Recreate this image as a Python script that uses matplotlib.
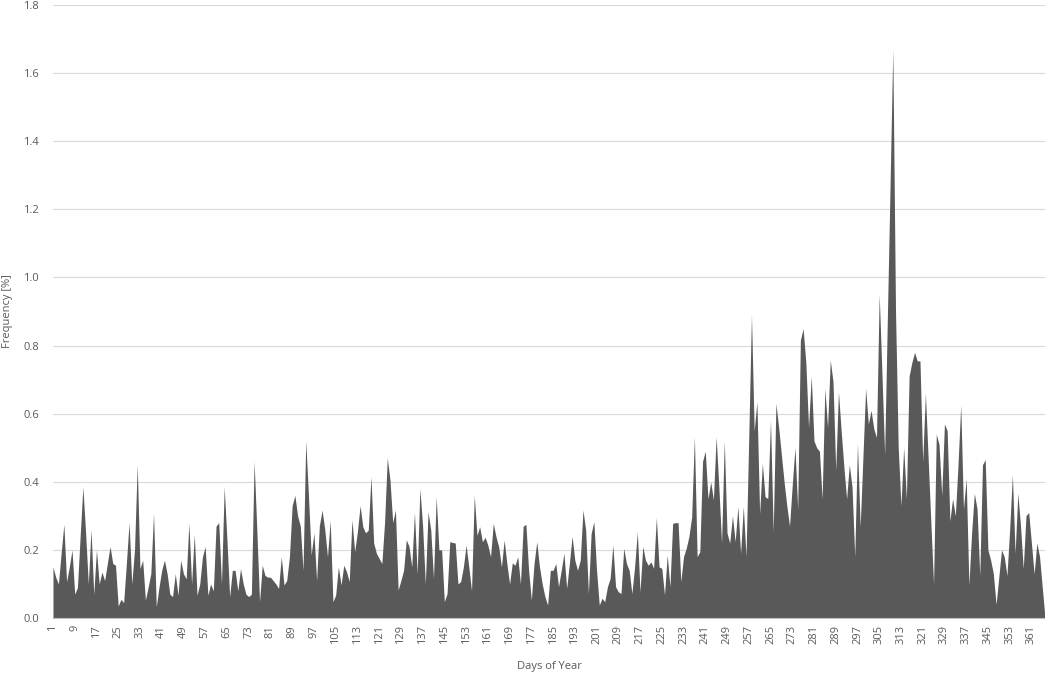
import matplotlib
matplotlib.use("Agg")
import matplotlib.pyplot as plt
import numpy as np

plt.rcParams['font.family'] = ['Open Sans', 'DejaVu Sans']

# daily frequency [%], grouped by month-ish blocks
freq_001_032 = [0.15, 0.12, 0.10, 0.19, 0.275, 0.107, 0.15, 0.20, 0.07, 0.09,
                0.24, 0.385, 0.25, 0.10, 0.26, 0.07, 0.20, 0.10, 0.135, 0.11,
                0.16, 0.21, 0.16, 0.155, 0.035, 0.055, 0.045, 0.16, 0.28, 0.10,
                0.20, 0.45]
freq_033_062 = [0.145, 0.17, 0.053, 0.09, 0.13, 0.307, 0.033, 0.09, 0.14, 0.17,
                0.13, 0.07, 0.063, 0.13, 0.067, 0.17, 0.13, 0.115, 0.278, 0.10,
                0.245, 0.067, 0.10, 0.18, 0.21, 0.067, 0.10, 0.08, 0.27, 0.28]
freq_063_092 = [0.10, 0.385, 0.23, 0.063, 0.14, 0.14, 0.08, 0.145, 0.10, 0.07,
                0.063, 0.07, 0.46, 0.26, 0.048, 0.155, 0.125, 0.12, 0.12, 0.11,
                0.10, 0.087, 0.18, 0.097, 0.11, 0.18, 0.33, 0.36, 0.30, 0.27]
freq_093_123 = [0.14, 0.52, 0.36, 0.185, 0.25, 0.11, 0.27, 0.317, 0.26, 0.18,
                0.286, 0.048, 0.067, 0.15, 0.097, 0.155, 0.136, 0.107, 0.288, 0.195,
                0.253, 0.33, 0.268, 0.25, 0.258, 0.415, 0.22, 0.19, 0.175, 0.16,
                0.28]
freq_124_154 = [0.47, 0.405, 0.28, 0.317, 0.082, 0.11, 0.14, 0.23, 0.21, 0.15,
                0.31, 0.13, 0.38, 0.27, 0.10, 0.312, 0.258, 0.116, 0.356, 0.20,
                0.20, 0.048, 0.072, 0.224, 0.222, 0.22, 0.10, 0.107, 0.15, 0.214,
                0.15]
freq_155_185 = [0.08, 0.36, 0.243, 0.268, 0.224, 0.237, 0.214, 0.18, 0.278, 0.239,
                0.209, 0.15, 0.229, 0.16, 0.10, 0.162, 0.155, 0.18, 0.10, 0.27,
                0.275, 0.14, 0.053, 0.16, 0.224, 0.15, 0.10, 0.063, 0.038, 0.14,
                0.14]
freq_186_216 = [0.16, 0.092, 0.14, 0.19, 0.087, 0.16, 0.24, 0.17, 0.14, 0.17,
                0.317, 0.258, 0.072, 0.248, 0.283, 0.14, 0.038, 0.058, 0.048, 0.092,
                0.116, 0.214, 0.092, 0.077, 0.072, 0.205, 0.16, 0.14, 0.072, 0.15,
                0.253]
freq_217_247 = [0.077, 0.21, 0.17, 0.155, 0.165, 0.146, 0.295, 0.15, 0.146, 0.068,
                0.185, 0.092, 0.278, 0.28, 0.28, 0.107, 0.18, 0.205, 0.24, 0.297,
                0.532, 0.18, 0.195, 0.46, 0.49, 0.35, 0.40, 0.347, 0.532, 0.385,
                0.22]
freq_248_278 = [0.52, 0.25, 0.22, 0.30, 0.224, 0.327, 0.19, 0.327, 0.18, 0.53,
                0.89, 0.55, 0.635, 0.307, 0.454, 0.356, 0.351, 0.58, 0.253, 0.63,
                0.56, 0.48, 0.40, 0.33, 0.27, 0.39, 0.50, 0.32, 0.816, 0.85,
                0.75]
freq_279_308 = [0.56, 0.71, 0.52, 0.50, 0.49, 0.35, 0.674, 0.56, 0.757, 0.694,
                0.434, 0.664, 0.55, 0.444, 0.35, 0.45, 0.385, 0.18, 0.513, 0.268,
                0.47, 0.674, 0.57, 0.61, 0.556, 0.53, 0.95, 0.72, 0.48, 0.88]
freq_309_339 = [1.27, 1.67, 0.90, 0.50, 0.33, 0.50, 0.35, 0.71, 0.75, 0.78,
                0.755, 0.755, 0.46, 0.66, 0.47, 0.28, 0.10, 0.54, 0.51, 0.36,
                0.57, 0.55, 0.285, 0.35, 0.30, 0.45, 0.625, 0.32, 0.41, 0.097,
                0.25]
freq_340_366 = [0.366, 0.32, 0.125, 0.45, 0.465, 0.20, 0.17, 0.13, 0.04, 0.12,
                0.20, 0.18, 0.125, 0.26, 0.42, 0.19, 0.366, 0.27, 0.145, 0.30,
                0.31, 0.22, 0.13, 0.22, 0.18, 0.09, 0.0]

freq = np.array(freq_001_032 + freq_033_062 + freq_063_092 + freq_093_123 +
                freq_124_154 + freq_155_185 + freq_186_216 + freq_217_247 +
                freq_248_278 + freq_279_308 + freq_309_339 + freq_340_366)
days = np.arange(1, len(freq) + 1)

x_ticks = np.arange(1, 366, 8)
y_ticks = np.arange(0, 1.81, 0.2)

fig = plt.figure(figsize=(10.45, 6.75), dpi=100)
ax = fig.add_axes([0.0507, 0.0844, 0.9493, 0.9082])

ax.fill_between(days, freq, 0, color="#595959", linewidth=0)

ax.set_xlim(1, len(days))
ax.set_ylim(0, 1.8)
ax.set_yticks(y_ticks)
ax.set_yticklabels([f"{v:.1f}" for v in y_ticks])
ax.set_xticks(x_ticks)
ax.set_xticklabels([str(d) for d in x_ticks], rotation=90)

ax.grid(axis="y", color="#d9d9d9", linewidth=0.8)
ax.set_axisbelow(True)
for s in ["top", "right", "left"]:
    ax.spines[s].set_visible(False)
ax.spines["bottom"].set_color("#bfbfbf")
ax.tick_params(axis="y", length=0, labelsize=8, labelcolor="#595959", pad=10)
ax.tick_params(axis="x", length=0, labelsize=8, labelcolor="#595959", pad=5)

ax.set_xlabel("Days of Year", fontsize=8, color="#595959", labelpad=12)
ax.set_ylabel("Frequency [%]", fontsize=8, color="#595959")
ax.yaxis.set_label_coords(-0.04, 0.5)

fig.savefig("out.png", dpi=100)
